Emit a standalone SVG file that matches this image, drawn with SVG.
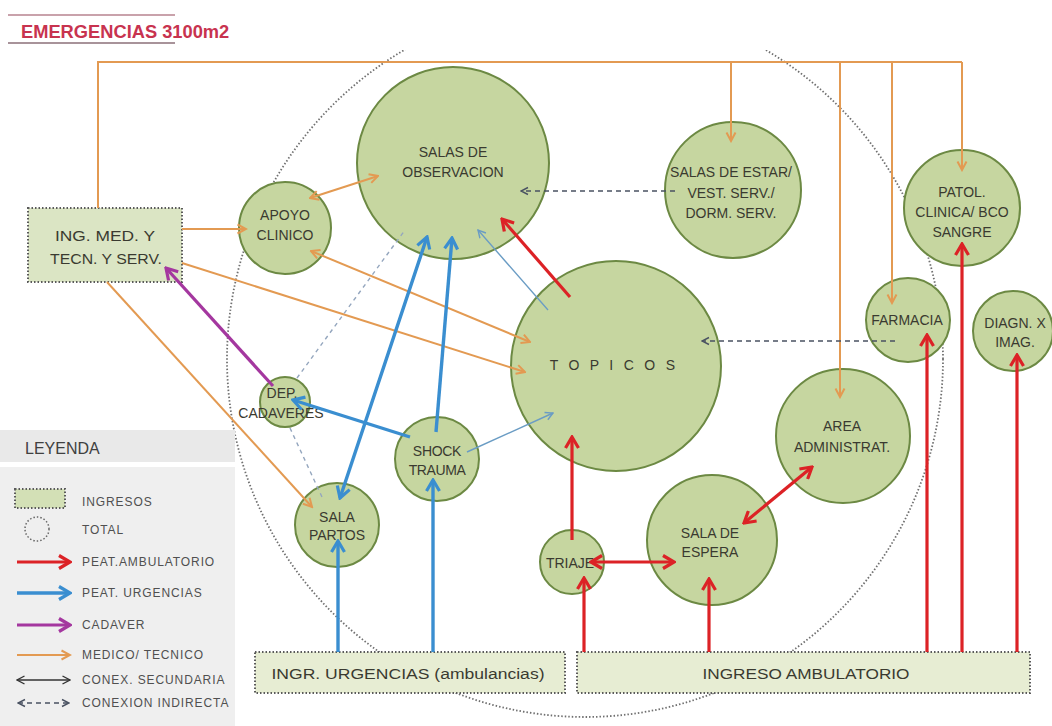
<svg xmlns="http://www.w3.org/2000/svg" width="1052" height="726" viewBox="0 0 1052 726">
<style>
.node{fill:#c6d6a0;stroke:#6c8943;stroke-width:2}
.lbl{font-family:"Liberation Sans",Arial,sans-serif;font-size:14px;fill:#3a3a30;text-anchor:middle}
.box{stroke:#5a5a5a;stroke-width:2;stroke-dasharray:1.5 2}
.or{stroke:#e39a52;stroke-width:2;fill:none}
.red{stroke:#dc2226;stroke-width:3.2;fill:none}
.blue{stroke:#3a8ed0;stroke-width:3.4;fill:none}
.pur{stroke:#a4379f;stroke-width:3.2;fill:none}
.thin{stroke:#6a9cc4;stroke-width:1.4;fill:none}
.dash{stroke:#4a5262;stroke-width:1.4;fill:none;stroke-dasharray:5 4}
.gdash{stroke:#94a6be;stroke-width:1.4;fill:none;stroke-dasharray:4 4}
.leg{font-family:"Liberation Sans",Arial,sans-serif;font-size:12px;fill:#505050;letter-spacing:0.9px}
</style>
<defs>
<clipPath id="clipTop"><rect x="0" y="50" width="1052" height="676"/></clipPath>
<marker id="aOr" viewBox="0 0 12 12" refX="10.5" refY="6" markerWidth="12" markerHeight="12" markerUnits="userSpaceOnUse" orient="auto-start-reverse"><path d="M2,1.5 L10.5,6 L2,10.5" fill="none" stroke="#e39a52" stroke-width="2"/></marker>
<marker id="aRed" viewBox="0 0 16 16" refX="14" refY="8" markerWidth="16" markerHeight="16" markerUnits="userSpaceOnUse" orient="auto-start-reverse"><path d="M3,1.5 L14,8 L3,14.5" fill="none" stroke="#dc2226" stroke-width="3.2"/></marker>
<marker id="aBlue" viewBox="0 0 16 16" refX="14" refY="8" markerWidth="16" markerHeight="16" markerUnits="userSpaceOnUse" orient="auto-start-reverse"><path d="M3,1.5 L14,8 L3,14.5" fill="none" stroke="#3a8ed0" stroke-width="3.2"/></marker>
<marker id="aPur" viewBox="0 0 16 16" refX="14" refY="8" markerWidth="16" markerHeight="16" markerUnits="userSpaceOnUse" orient="auto-start-reverse"><path d="M3,1.5 L14,8 L3,14.5" fill="none" stroke="#a4379f" stroke-width="3.2"/></marker>
<marker id="aThin" viewBox="0 0 10 10" refX="9" refY="5" markerWidth="10" markerHeight="10" markerUnits="userSpaceOnUse" orient="auto-start-reverse"><path d="M1.5,1 L9,5 L1.5,9" fill="none" stroke="#6a9cc4" stroke-width="1.4"/></marker>
<marker id="aDash" viewBox="0 0 10 10" refX="9" refY="5" markerWidth="10" markerHeight="10" markerUnits="userSpaceOnUse" orient="auto-start-reverse"><path d="M2,1.5 L9,5 L2,8.5" fill="none" stroke="#4a5262" stroke-width="1.4"/></marker>
<marker id="aBlk" viewBox="0 0 10 10" refX="9" refY="5" markerWidth="10" markerHeight="10" markerUnits="userSpaceOnUse" orient="auto-start-reverse"><path d="M1.5,1 L9,5 L1.5,9" fill="none" stroke="#333" stroke-width="1.4"/></marker>
</defs>

<rect width="1052" height="726" fill="#ffffff"/>

<g id="title">
<line x1="8" y1="15" x2="175" y2="15" stroke="#c9a2ab" stroke-width="2"/>
<line x1="8" y1="43" x2="175" y2="43" stroke="#a8939a" stroke-width="2"/>
<text x="21" y="38" font-family="'Liberation Sans',Arial,sans-serif" font-size="18.3" font-weight="bold" fill="#c8334f">EMERGENCIAS 3100m2</text>
</g>

<g id="total">
<circle cx="585" cy="359" r="358" fill="none" stroke="#707070" stroke-width="1.8" stroke-dasharray="1.5 2" clip-path="url(#clipTop)"/>
</g>

<g id="legend">
<rect x="0" y="430" width="235" height="32" fill="#e9e9e9"/>
<rect x="0" y="467" width="235" height="259" fill="#efefef"/>
<text x="25" y="454" font-family="'Liberation Sans',Arial,sans-serif" font-size="16" fill="#404040">LEYENDA</text>
<rect x="15" y="489" width="50" height="19" fill="#d3e0b6" class="box"/>
<circle cx="37" cy="529" r="12" fill="none" stroke="#666" stroke-width="1.5" stroke-dasharray="1.5 2"/>
<line x1="17" y1="562" x2="70" y2="562" class="red" marker-end="url(#aRed)"/>
<line x1="17" y1="593" x2="70" y2="593" class="blue" marker-end="url(#aBlue)"/>
<line x1="17" y1="625" x2="70" y2="625" class="pur" marker-end="url(#aPur)"/>
<line x1="17" y1="655" x2="70" y2="655" class="or" marker-end="url(#aOr)"/>
<line x1="17" y1="680" x2="70" y2="680" stroke="#333" stroke-width="1.4" marker-start="url(#aBlk)" marker-end="url(#aBlk)"/>
<line x1="18" y1="703" x2="69" y2="703" class="dash" marker-start="url(#aDash)" marker-end="url(#aDash)"/>
<text class="leg" x="82" y="506">INGRESOS</text>
<text class="leg" x="82" y="534">TOTAL</text>
<text class="leg" x="82" y="566">PEAT.AMBULATORIO</text>
<text class="leg" x="82" y="597">PEAT. URGENCIAS</text>
<text class="leg" x="82" y="629">CADAVER</text>
<text class="leg" x="82" y="659">MEDICO/ TECNICO</text>
<text class="leg" x="82" y="684">CONEX. SECUNDARIA</text>
<text class="leg" x="82" y="707">CONEXION INDIRECTA</text>
</g>

<g id="ing-med">
<rect x="28" y="208" width="154" height="74" fill="#dbe5c4" class="box"/>
<text class="lbl" x="105" y="241" font-size="15.5" textLength="100" lengthAdjust="spacingAndGlyphs">ING. MED. Y</text>
<text class="lbl" x="106" y="264" font-size="15.5" textLength="112" lengthAdjust="spacingAndGlyphs">TECN. Y SERV.</text>
</g>

<g id="ingr-urgencias">
<rect x="255" y="652" width="310" height="41" fill="#e7edd3" class="box"/>
<text class="lbl" x="408" y="679" font-size="17" textLength="273" lengthAdjust="spacingAndGlyphs">INGR. URGENCIAS (ambulancias)</text>
</g>

<g id="ingreso-ambulatorio">
<rect x="577" y="652" width="453" height="41" fill="#e7edd3" class="box"/>
<text class="lbl" x="806" y="679" font-size="17" textLength="207" lengthAdjust="spacingAndGlyphs">INGRESO AMBULATORIO</text>
</g>

<g id="salas-observacion">
<circle class="node" cx="453" cy="163" r="96"/>
<text class="lbl" x="453" y="157">SALAS DE</text>
<text class="lbl" x="453" y="177">OBSERVACION</text>
</g>

<g id="apoyo-clinico">
<circle class="node" cx="285" cy="228" r="46"/>
<text class="lbl" x="285" y="220" font-size="13.5">APOYO</text>
<text class="lbl" x="285" y="240" font-size="13.5">CLINICO</text>
</g>

<g id="salas-estar">
<circle class="node" cx="733" cy="190" r="68"/>
<text class="lbl" x="731" y="177" font-size="13.5">SALAS DE ESTAR/</text>
<text class="lbl" x="731" y="198" font-size="13.5">VEST. SERV./</text>
<text class="lbl" x="731" y="218" font-size="13.5">DORM. SERV.</text>
</g>

<g id="patol-clinica">
<circle class="node" cx="962" cy="208" r="58"/>
<text class="lbl" x="962" y="197">PATOL.</text>
<text class="lbl" x="962" y="217">CLINICA/ BCO</text>
<text class="lbl" x="962" y="237">SANGRE</text>
</g>

<g id="farmacia">
<circle class="node" cx="908" cy="320" r="42"/>
<text class="lbl" x="907" y="325" font-size="14.5">FARMACIA</text>
</g>

<g id="diagn-imag">
<circle class="node" cx="1013" cy="331" r="40"/>
<text class="lbl" x="1015" y="328" font-size="14.5">DIAGN. X</text>
<text class="lbl" x="1015" y="347" font-size="14.5">IMAG.</text>
</g>

<g id="topicos">
<circle class="node" cx="616" cy="366" r="105"/>
<text class="lbl" x="614" y="370" font-size="13" letter-spacing="3.3">T O P I C O S</text>
</g>

<g id="area-administrat">
<circle class="node" cx="843" cy="436" r="67"/>
<text class="lbl" x="842" y="431">AREA</text>
<text class="lbl" x="842" y="452">ADMINISTRAT.</text>
</g>

<g id="sala-espera">
<circle class="node" cx="712" cy="540" r="65"/>
<text class="lbl" x="710" y="538">SALA DE</text>
<text class="lbl" x="710" y="557">ESPERA</text>
</g>

<g id="triaje">
<circle class="node" cx="572" cy="562" r="32"/>
<text class="lbl" x="570" y="568" font-size="13">TRIAJE</text>
</g>

<g id="shock-trauma">
<circle class="node" cx="437" cy="459" r="42"/>
<text class="lbl" x="437" y="456" font-size="12" letter-spacing="-0.3">SHOCK</text>
<text class="lbl" x="437" y="475" font-size="12.5" letter-spacing="-0.4">TRAUMA</text>
</g>

<g id="sala-partos">
<circle class="node" cx="337" cy="525" r="42"/>
<text class="lbl" x="337" y="522" font-size="13">SALA</text>
<text class="lbl" x="337" y="540" font-size="13">PARTOS</text>
</g>

<g id="dep-cadaveres">
<circle class="node" cx="285" cy="402" r="25"/>
<text class="lbl" x="282" y="398" font-size="13.5">DEP.</text>
<text class="lbl" x="281" y="418" font-size="13.5">CADAVERES</text>
</g>

<g id="connectors">
<polyline class="or" points="98,208 98,62 962,62"/>
<line class="or" x1="731" y1="62" x2="731" y2="141" marker-end="url(#aOr)"/>
<line class="or" x1="840" y1="62" x2="840" y2="397" marker-end="url(#aOr)"/>
<line class="or" x1="892" y1="62" x2="892" y2="303" marker-end="url(#aOr)"/>
<line class="or" x1="962" y1="62" x2="962" y2="170" marker-end="url(#aOr)"/>
<line class="or" x1="182" y1="229" x2="246" y2="229" marker-end="url(#aOr)"/>
<line class="or" x1="310" y1="198" x2="378" y2="176" marker-start="url(#aOr)" marker-end="url(#aOr)"/>
<line class="or" x1="311" y1="251" x2="530" y2="342" marker-start="url(#aOr)" marker-end="url(#aOr)"/>
<line class="or" x1="182" y1="263" x2="525" y2="372" marker-end="url(#aOr)"/>
<line class="or" x1="107" y1="282" x2="312" y2="507" marker-end="url(#aOr)"/>

<line class="red" x1="570" y1="297" x2="502" y2="219" marker-end="url(#aRed)"/>
<line class="red" x1="572" y1="540" x2="572" y2="437" marker-end="url(#aRed)"/>
<line class="red" x1="591" y1="562" x2="674" y2="562" marker-start="url(#aRed)" marker-end="url(#aRed)"/>
<line class="red" x1="744" y1="523" x2="812" y2="467" marker-start="url(#aRed)" marker-end="url(#aRed)"/>
<line class="red" x1="584" y1="652" x2="584" y2="578" marker-end="url(#aRed)"/>
<line class="red" x1="709" y1="652" x2="709" y2="579" marker-end="url(#aRed)"/>
<line class="red" x1="927" y1="652" x2="927" y2="335" marker-end="url(#aRed)"/>
<line class="red" x1="962" y1="652" x2="962" y2="244" marker-end="url(#aRed)"/>
<line class="red" x1="1017" y1="652" x2="1017" y2="355" marker-end="url(#aRed)"/>

<line class="blue" x1="338" y1="652" x2="338" y2="541" marker-end="url(#aBlue)"/>
<line class="blue" x1="433" y1="652" x2="433" y2="480" marker-end="url(#aBlue)"/>
<line class="blue" x1="340" y1="498" x2="427" y2="237" marker-start="url(#aBlue)" marker-end="url(#aBlue)"/>
<line class="blue" x1="436" y1="432" x2="452" y2="238" marker-end="url(#aBlue)"/>
<line class="blue" x1="410" y1="437" x2="293" y2="400" marker-end="url(#aBlue)"/>

<line class="thin" x1="467" y1="452" x2="553" y2="413" marker-end="url(#aThin)"/>
<line class="thin" x1="548" y1="310" x2="478" y2="230" marker-end="url(#aThin)"/>

<line class="pur" x1="273" y1="386" x2="166" y2="268" marker-end="url(#aPur)"/>

<line class="dash" x1="675" y1="191" x2="521" y2="191" marker-end="url(#aDash)"/>
<line class="dash" x1="895" y1="341" x2="702" y2="341" marker-end="url(#aDash)"/>
<line class="gdash" x1="297" y1="378" x2="405" y2="230"/>
<line class="gdash" x1="290" y1="428" x2="322" y2="497"/>
</g>
</svg>
